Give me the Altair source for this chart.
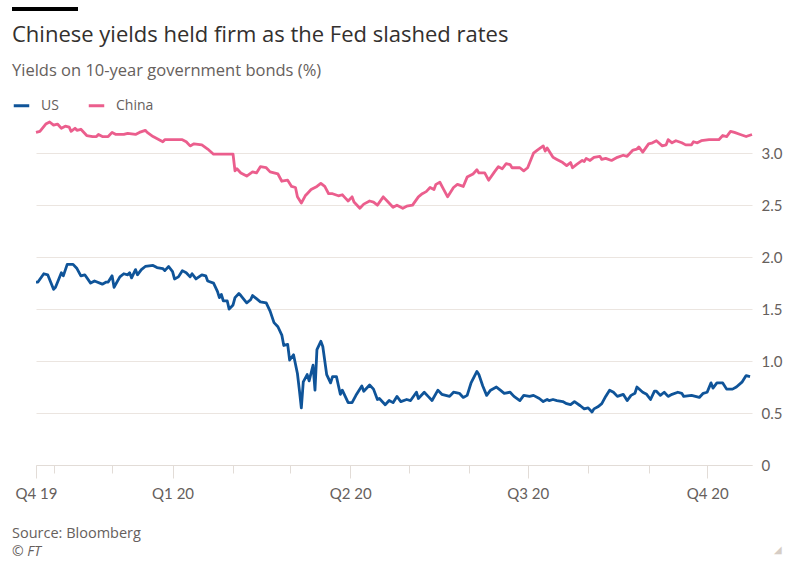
import altair as alt
import pandas as pd

# ---------------- data ----------------
start_date = "2019-10-23"
series_names = ["US", "China"]
series_colors = ["#0f5499", "#eb5e8d"]

us_day = [0, 1, 4, 6, 9, 10, 13, 14, 16, 19,
          21, 23, 25, 28, 30, 34, 36, 37, 39, 40,
          43, 45, 47, 48, 49, 51, 52, 54, 56, 60,
          62, 65, 66, 68, 70, 71, 73, 75, 77, 79,
          80, 82, 85, 87, 88, 91, 93, 94, 95, 96,
          98, 99, 101, 102, 104, 105, 108, 110, 111, 113,
          115, 118, 120, 122, 124, 126, 127, 129, 130, 132,
          134, 135, 136, 137, 139, 140, 142, 143, 144, 146,
          147, 149, 151, 152, 154, 156, 157, 160, 162, 164,
          167, 168, 171, 173, 175, 176, 179, 181, 183, 185,
          187, 190, 192, 195, 196, 199, 201, 203, 206, 208,
          212, 214, 217, 219, 221, 223, 226, 227, 229, 231,
          233, 236, 238, 240, 243, 245, 248, 250, 253, 255,
          258, 260, 262, 263, 265, 267, 270, 272, 274, 276,
          279, 281, 283, 285, 286, 288, 290, 292, 294, 296,
          298, 301, 303, 305, 307, 308, 311, 313, 315, 317,
          318, 320, 322, 324, 326, 329, 331, 332, 336, 338,
          340, 342, 344, 346, 347, 349, 352, 354, 357, 359,
          362, 364, 366]
us_yield = [1.76, 1.76, 1.84, 1.83, 1.69, 1.71, 1.85, 1.82, 1.93, 1.93,
            1.89, 1.82, 1.83, 1.75, 1.77, 1.74, 1.76, 1.76, 1.82, 1.71,
            1.81, 1.84, 1.83, 1.85, 1.80, 1.88, 1.83, 1.88, 1.91, 1.92,
            1.90, 1.89, 1.87, 1.91, 1.86, 1.79, 1.81, 1.87, 1.85, 1.81,
            1.84, 1.79, 1.83, 1.82, 1.77, 1.75, 1.67, 1.61, 1.64, 1.58,
            1.58, 1.50, 1.54, 1.61, 1.65, 1.63, 1.56, 1.59, 1.63, 1.60,
            1.57, 1.56, 1.48, 1.37, 1.33, 1.25, 1.15, 1.16, 1.01, 1.06,
            0.88, 0.72, 0.55, 0.80, 0.87, 0.81, 0.96, 0.72, 1.11, 1.19,
            1.14, 0.87, 0.79, 0.85, 0.85, 0.68, 0.72, 0.60, 0.60, 0.67,
            0.76, 0.71, 0.77, 0.73, 0.63, 0.64, 0.58, 0.62, 0.60, 0.66,
            0.61, 0.63, 0.62, 0.70, 0.64, 0.70, 0.66, 0.62, 0.72, 0.68,
            0.66, 0.70, 0.69, 0.65, 0.67, 0.79, 0.90, 0.87, 0.76, 0.67,
            0.72, 0.75, 0.72, 0.69, 0.70, 0.66, 0.62, 0.67, 0.66, 0.67,
            0.64, 0.61, 0.63, 0.62, 0.63, 0.62, 0.61, 0.59, 0.58, 0.61,
            0.57, 0.54, 0.55, 0.51, 0.54, 0.56, 0.59, 0.66, 0.72, 0.70,
            0.66, 0.68, 0.62, 0.67, 0.69, 0.75, 0.70, 0.68, 0.63, 0.71,
            0.71, 0.67, 0.70, 0.66, 0.68, 0.70, 0.69, 0.66, 0.67, 0.66,
            0.65, 0.69, 0.70, 0.79, 0.74, 0.79, 0.79, 0.73, 0.73, 0.75,
            0.80, 0.86, 0.85]

china_day = [0, 2, 5, 7, 9, 11, 13, 15, 17, 18,
             20, 21, 23, 26, 29, 31, 32, 34, 37, 39,
             41, 45, 47, 51, 53, 56, 57, 60, 65, 66,
             70, 73, 75, 77, 79, 81, 85, 88, 91, 94,
             98, 101, 102, 103, 105, 108, 111, 113, 115, 118,
             120, 122, 124, 126, 129, 131, 133, 134, 136, 138,
             139, 141, 144, 146, 148, 150, 152, 155, 157, 158,
             160, 162, 163, 166, 168, 171, 173, 175, 178, 180,
             183, 185, 188, 190, 193, 196, 198, 200, 202, 204,
             205, 207, 209, 211, 214, 216, 219, 221, 224, 226,
             227, 230, 232, 235, 237, 239, 241, 243, 244, 248,
             250, 252, 255, 257, 260, 261, 262, 265, 267, 270,
             272, 274, 275, 277, 280, 281, 282, 284, 286, 289,
             290, 292, 295, 298, 301, 303, 306, 308, 309, 311,
             314, 316, 318, 321, 323, 324, 326, 328, 331, 333,
             336, 337, 339, 341, 345, 350, 352, 354, 356, 358,
             361, 364, 367]
china_yield = [3.20, 3.21, 3.28, 3.30, 3.27, 3.28, 3.24, 3.26, 3.25, 3.21,
               3.24, 3.22, 3.23, 3.17, 3.16, 3.16, 3.18, 3.16, 3.16, 3.20,
               3.18, 3.18, 3.19, 3.18, 3.20, 3.22, 3.20, 3.16, 3.11, 3.13,
               3.13, 3.13, 3.13, 3.11, 3.07, 3.09, 3.08, 3.04, 2.99, 2.99,
               2.99, 2.99, 2.83, 2.85, 2.81, 2.78, 2.82, 2.81, 2.87, 2.86,
               2.82, 2.81, 2.80, 2.73, 2.74, 2.68, 2.67, 2.58, 2.52, 2.59,
               2.61, 2.65, 2.68, 2.71, 2.68, 2.61, 2.61, 2.59, 2.60, 2.58,
               2.54, 2.58, 2.53, 2.47, 2.51, 2.54, 2.53, 2.50, 2.58, 2.54,
               2.48, 2.50, 2.47, 2.49, 2.50, 2.58, 2.61, 2.63, 2.67, 2.65,
               2.70, 2.72, 2.65, 2.58, 2.67, 2.70, 2.68, 2.77, 2.80, 2.84,
               2.81, 2.81, 2.74, 2.82, 2.87, 2.85, 2.90, 2.89, 2.86, 2.86,
               2.83, 2.86, 3.00, 3.03, 3.07, 3.02, 3.05, 2.96, 2.94, 2.91,
               2.88, 2.91, 2.86, 2.89, 2.93, 2.92, 2.95, 2.93, 2.96, 2.97,
               2.94, 2.95, 2.93, 2.96, 2.98, 2.97, 3.03, 3.04, 3.06, 3.01,
               3.09, 3.10, 3.12, 3.07, 3.08, 3.13, 3.10, 3.12, 3.10, 3.08,
               3.08, 3.11, 3.10, 3.12, 3.13, 3.13, 3.17, 3.16, 3.21, 3.20,
               3.18, 3.16, 3.18]

y_ticks = [0, 0.5, 1.0, 1.5, 2.0, 2.5, 3.0]

title_text = "Chinese yields held firm as the Fed slashed rates"
subtitle_text = "Yields on 10-year government bonds (%)"
source_text = "Source: Bloomberg"
credit_text = "© FT"

# ---------------- build table ----------------
df = pd.concat([
    pd.DataFrame({"day": us_day, "yield": us_yield, "series": "US"}),
    pd.DataFrame({"day": china_day, "yield": china_yield, "series": "China"}),
], ignore_index=True)
df["date"] = (pd.Timestamp(start_date) + pd.to_timedelta(df["day"], unit="D")).dt.strftime("%Y-%m-%d")

FONT = "Lato"
TFONT = "Open Sans"
GREY = "#66605c"
GRID = "#ebe5e0"

x_start = alt.DateTime(year=2019, month=10, date=23, utc=True)
x_end = alt.DateTime(year=2020, month=10, date=24, utc=True)
tick_values = [x_start] + [alt.DateTime(year=2019, month=m, date=1, utc=True) for m in (11, 12)] + \
              [alt.DateTime(year=2020, month=m, date=1, utc=True) for m in range(1, 11)]

label_expr = ("(utcmonth(datum.value) == 9 && utcdate(datum.value) == 23) ? 'Q4 19' : "
              "((utcdate(datum.value) == 1 && utcmonth(datum.value) % 3 == 0) ? "
              "'Q' + (floor(utcmonth(datum.value) / 3) + 1) + ' ' + (utcyear(datum.value) % 100) : '')")
long_tick = "utcdate(datum.value) != 1 || utcmonth(datum.value) % 3 == 0"

lines = alt.Chart(df).mark_line(strokeWidth=2.8, strokeJoin="round").encode(
    x=alt.X("date:T",
            scale=alt.Scale(domain=[x_start, x_end], nice=False),
            axis=alt.Axis(values=tick_values, labelExpr=label_expr, title=None, grid=False,
                          domainColor="#e2dcd7", tickColor="#e2dcd7",
                          tickSize={"condition": {"test": long_tick, "value": 13}, "value": 8},
                          labelFont=FONT, labelFontSize=15, labelColor=GREY,
                          labelPadding=8, labelFlush=False, labelOverlap=False)),
    y=alt.Y("yield:Q",
            scale=alt.Scale(domain=[0, 3.3], nice=False, zero=True),
            axis=alt.Axis(orient="right", values=y_ticks, title=None, domain=False, ticks=False,
                          grid=True, gridColor=GRID, gridWidth=1,
                          labelExpr="datum.value == 0 ? '0' : format(datum.value, '.1f')",
                          labelFont=FONT, labelFontSize=15, labelColor=GREY,
                          labelPadding=9, labelAlign="left", labelBaseline="middle")),
    color=alt.Color("series:N",
                    scale=alt.Scale(domain=series_names, range=series_colors),
                    legend=alt.Legend(orient="none", legendX=-24, legendY=-26, direction="horizontal",
                                      title=None, symbolType="stroke", symbolStrokeWidth=3,
                                      symbolSize=240, labelFont=TFONT, labelFontSize=14,
                                      labelColor=GREY, labelOffset=10, columnPadding=23,
                                      padding=0)),
)

def text_layer(txt, x, y, size, color, style="normal", font=TFONT):
    return alt.Chart(pd.DataFrame({"t": [txt]})).mark_text(
        align="left", baseline="alphabetic", font=font, fontSize=size, color=color, fontStyle=style
    ).encode(x=alt.value(x), y=alt.value(y), text="t:N")

bar = alt.Chart(pd.DataFrame({"a": [0]})).mark_rule(color="#000000", strokeWidth=4).encode(
    x=alt.value(-24), x2=alt.value(42), y=alt.value(-113))

title = text_layer(title_text, -24, -80, 22, "#33302e")
subtitle = text_layer(subtitle_text, -24, -46, 16.5, GREY)
source = text_layer(source_text, -24, 416, 14.5, GREY)
credit = text_layer(credit_text, -24, 434, 14, GREY, "italic")
corner = text_layer("◢", 738, 431, 10, "#d6cdc5", font="DejaVu Sans")

chart = alt.layer(lines, bar, title, subtitle, source, credit, corner).properties(
    width=716, height=343,
    autosize=alt.AutoSizeParams(type="none"),
    padding={"left": 36, "top": 122, "right": 34, "bottom": 97},
    background="#ffffff",
).configure_view(stroke=None)

chart.save("out.html", embed_options={"renderer": "svg", "actions": False})
